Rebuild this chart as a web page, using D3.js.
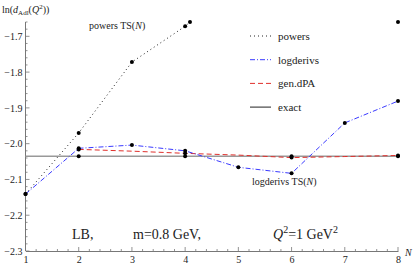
<!DOCTYPE html>
<html>
<head>
<meta charset="utf-8">
<script src="https://cdn.jsdelivr.net/npm/d3@7"></script>
<style>
  body { margin: 0; background: #fff; }
  text { font-family: "Liberation Serif", "Times New Roman", serif; fill: #222; }
</style>
</head>
<body>
<svg id="chart" width="415" height="268"></svg>
<script>
const N_VALUES = [1, 2, 3, 4, 5, 6, 7, 8];

const powers = [-2.141, -1.970, -1.772, -1.672, -1.54, -1.41, -1.28, -1.15];
const logderivs = [-2.141, -2.013, -2.004, -2.020, -2.066, -2.083, -1.942, -1.881];
const genDPA_N = [2, 3, 4, 5, 6, 7, 8];
const genDPA = [-2.016, -2.021, -2.027, -2.032, -2.039, -2.036, -2.033];
const EXACT = -2.035;
const exactMarkN = [2, 4, 6, 8];

const X_TICKS = [1, 2, 3, 4, 5, 6, 7, 8];
const Y_TICKS = [-2.3, -2.2, -2.1, -2.0, -1.9, -1.8, -1.7];

const LEGEND = [
    {name: "powers", color: "#222", dash: "1,3", width: 1},
    {name: "logderivs", color: "#3a3aff", dash: "5,2,1,2", width: 1},
    {name: "gen.dPA", color: "#e0302c", dash: "5,3", width: 1},
    {name: "exact", color: "#222", dash: null, width: 1}
];

const svg = d3.select("#chart");

const x = d3.scaleLinear().domain([1, 8]).range([25.5, 398]);
const y = d3.scaleLinear().domain([-2.3, -1.66]).range([251, 22]);

svg.append("defs").append("clipPath").attr("id", "plotclip")
    .append("rect")
    .attr("x", x(1) - 4).attr("y", y(-1.66))
    .attr("width", x(8) - x(1) + 8).attr("height", y(-2.3) - y(-1.66));

// axes, ticks inward like the original
const xAxis = d3.axisBottom(x).tickValues(X_TICKS).tickSize(0).tickFormat(d3.format("d"));
const gx = svg.append("g").attr("transform", `translate(0,${y(-2.3)})`).call(xAxis);
gx.select(".domain").attr("stroke", "#777");
gx.selectAll("text").attr("font-size", 10).attr("dy", "0.9em").attr("font-family", "Liberation Serif");

const minorX = d3.range(1, 8.001, 0.2);
gx.selectAll(".mtick").data(minorX).enter().append("line")
    .attr("x1", d => x(d)).attr("x2", d => x(d))
    .attr("y1", 0)
    .attr("y2", d => Math.abs(d - Math.round(d)) < 1e-6 ? -4 : -2)
    .attr("stroke", "#777").attr("stroke-width", 0.8);

const yAxis = d3.axisLeft(y).tickValues(Y_TICKS).tickSize(0)
    .tickFormat(d => d3.format(".1f")(d).replace("-", "\u2212"));
const gy = svg.append("g").attr("transform", `translate(${x(1)},0)`).call(yAxis);
gy.select(".domain").attr("stroke", "#777").attr("d", `M0,${y(-2.3)}V${y(-1.66)}`);
gy.selectAll("text").attr("font-size", 10).attr("x", -3).attr("font-family", "Liberation Serif");

const minorY = d3.range(-2.3, -1.6599, 0.02);
gy.selectAll(".mtick").data(minorY).enter().append("line")
    .attr("y1", d => y(d)).attr("y2", d => y(d))
    .attr("x1", 0)
    .attr("x2", d => Math.abs(d * 10 - Math.round(d * 10)) < 1e-6 ? 4 : 2)
    .attr("stroke", "#777").attr("stroke-width", 0.8);

// plot area
const plot = svg.append("g").attr("clip-path", "url(#plotclip)");

plot.append("line")
    .attr("x1", x(1)).attr("x2", x(8))
    .attr("y1", y(EXACT)).attr("y2", y(EXACT))
    .attr("stroke", "#999").attr("stroke-width", 1.5);

const line = d3.line().x(d => x(d[0])).y(d => y(d[1]));

const genPts = genDPA_N.map((n, i) => [n, genDPA[i]]);
plot.append("path").attr("d", line(genPts))
    .attr("fill", "none").attr("stroke", LEGEND[2].color)
    .attr("stroke-dasharray", LEGEND[2].dash).attr("stroke-width", 1);

const logPts = N_VALUES.map((n, i) => [n, logderivs[i]]);
plot.append("path").attr("d", line(logPts))
    .attr("fill", "none").attr("stroke", LEGEND[1].color)
    .attr("stroke-dasharray", LEGEND[1].dash).attr("stroke-width", 1);

const powPts = N_VALUES.map((n, i) => [n, powers[i]]);
plot.append("path").attr("d", line(powPts))
    .attr("fill", "none").attr("stroke", LEGEND[0].color)
    .attr("stroke-dasharray", LEGEND[0].dash).attr("stroke-width", 1);

// markers
const yTop = y.domain()[1];
let dots = [];
powPts.forEach((p, i) => {
    if (p[1] <= yTop) dots.push(p);
    else if (i > 0 && powPts[i - 1][1] <= yTop) {
        // where the line leaves the frame
        const a = powPts[i - 1];
        const t = (yTop - a[1]) / (p[1] - a[1]);
        dots.push([a[0] + t * (p[0] - a[0]), yTop]);
    }
});
const lastPow = powPts[powPts.length - 1];
if (lastPow[1] > yTop) dots.push([lastPow[0], yTop]);
dots = dots.concat(logPts);
dots = dots.concat(genPts.filter(p => p[0] % 2 === 0));
dots = dots.concat(exactMarkN.map(n => [n, EXACT]));

svg.append("g").selectAll("circle").data(dots).enter().append("circle")
    .attr("cx", d => x(d[0])).attr("cy", d => y(d[1]))
    .attr("r", 2).attr("fill", "#000");

// legend
const lg = svg.append("g");
LEGEND.forEach((s, i) => {
    const yy = 36 + i * 23.7;
    lg.append("line")
        .attr("x1", 250).attr("x2", 271).attr("y1", yy).attr("y2", yy)
        .attr("stroke", s.color)
        .attr("stroke-dasharray", s.dash).attr("stroke-width", s.width);
    lg.append("text").attr("x", 278).attr("y", yy + 4)
        .attr("font-size", 11).text(s.name);
});

// labels
const yl = svg.append("text").attr("x", 2).attr("y", 13).attr("font-size", 10);
yl.append("tspan").text("ln(");
yl.append("tspan").attr("font-style", "italic").text("d");
yl.append("tspan").attr("font-size", 7).attr("dy", 2).text("Adl");
yl.append("tspan").attr("dy", -2).text("(");
yl.append("tspan").attr("font-style", "italic").text("Q");
yl.append("tspan").attr("font-size", 7).attr("dy", -4).text("2");
yl.append("tspan").attr("dy", 4).text("))");

svg.append("text").attr("x", 405).attr("y", 256).attr("font-size", 10)
    .attr("font-style", "italic").text("N");

function tsLabel(xp, yp, name) {
    const t = svg.append("text").attr("x", xp).attr("y", yp).attr("font-size", 10);
    t.append("tspan").text(name + " TS(");
    t.append("tspan").attr("font-style", "italic").text("N");
    t.append("tspan").text(")");
}
tsLabel(89, 29, "powers");
tsLabel(252, 185, "logderivs");

const bl = svg.append("text").attr("y", 239).attr("font-size", 14);
bl.append("tspan").attr("x", 72).text("LB,");
bl.append("tspan").attr("x", 133).text("m=0.8 GeV,");
bl.append("tspan").attr("x", 273).attr("font-style", "italic").text("Q");
bl.append("tspan").attr("font-size", 10).attr("dy", -6).text("2");
bl.append("tspan").attr("dy", 6).text("=1 GeV");
bl.append("tspan").attr("font-size", 10).attr("dy", -6).text("2");
</script>
</body>
</html>
